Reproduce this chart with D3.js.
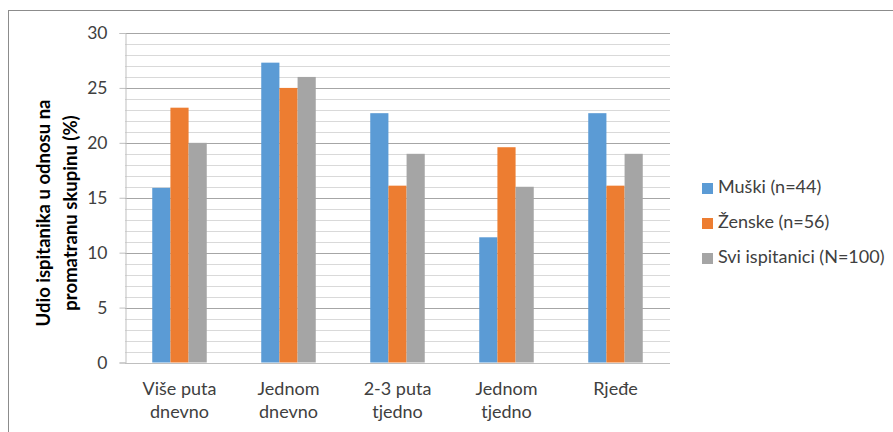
<!DOCTYPE html>
<html>
<head>
<meta charset="utf-8">
<script src="https://cdn.jsdelivr.net/npm/d3@7"></script>
<style>
  html, body { margin: 0; padding: 0; background: #fff; }
  svg { display: block; }
  text { font-family: Lato, "Open Sans", sans-serif; fill: #404040; }
</style>
</head>
<body>
<svg id="chart" width="893" height="432"></svg>
<script>
const categories = [["Više puta", "dnevno"], ["Jednom", "dnevno"], ["2-3 puta", "tjedno"], ["Jednom", "tjedno"], ["Rjeđe"]];
const seriesNames = ["Muški (n=44)", "Ženske (n=56)", "Svi ispitanici (N=100)"];
const muski = [15.9, 27.3, 22.7, 11.4, 22.7];
const zenske = [23.2, 25.0, 16.1, 19.6, 16.1];
const svi = [20, 26, 19, 16, 19];
const yTicks = [0, 5, 10, 15, 20, 25, 30];
const yMinorTicks = d3.range(0, 31, 1);
const colors = ["#5B9BD5", "#ED7D31", "#A5A5A5"];
const yTitle = ["Udio ispitanika u odnosu na", "promatranu skupinu (%)"];

const series = [muski, zenske, svi];
const svg = d3.select("#chart");

// frame
svg.append("rect").attr("x", 8.5).attr("y", 10.5).attr("width", 900).attr("height", 440)
  .attr("fill", "none").attr("stroke", "#8c8c8c").attr("stroke-width", 1);

const pLeft = 125, pRight = 670, pTop = 33, pBottom = 362.5;
const catIdx = categories.map((c, i) => i);
const x = d3.scaleBand().domain(catIdx).range([pLeft, pRight]).paddingInner(0.5).paddingOuter(0.25);
const xs = d3.scaleBand().domain([0, 1, 2]).range([0, x.bandwidth()]);
const y = d3.scaleLinear().domain([0, 30]).range([pBottom, pTop]);

// minor gridlines
svg.append("g").selectAll("line").data(yMinorTicks.filter(v => v % 5 !== 0)).join("line")
  .attr("x1", pLeft).attr("x2", pRight)
  .attr("y1", d => Math.round(y(d)) + 0.5).attr("y2", d => Math.round(y(d)) + 0.5)
  .attr("stroke", "#d9d9d9").attr("stroke-width", 1);
// major gridlines
svg.append("g").selectAll("line").data(yTicks.filter(v => v > 0)).join("line")
  .attr("x1", pLeft).attr("x2", pRight)
  .attr("y1", d => Math.round(y(d)) + 0.5).attr("y2", d => Math.round(y(d)) + 0.5)
  .attr("stroke", "#a6a6a6").attr("stroke-width", 1);

// y axis
const yAxis = d3.axisLeft(y).tickValues(yTicks).tickSize(6).tickPadding(12).tickFormat(d3.format("d"));
const ga = svg.append("g").attr("transform", `translate(${pLeft + 0.5},0)`).call(yAxis);
ga.select(".domain").attr("stroke", "#bfbfbf");
ga.selectAll(".tick line").attr("stroke", "#bfbfbf");
ga.selectAll(".tick text").attr("font-family", "Lato, sans-serif").attr("font-size", 17.5).attr("fill", "#404040");

// bars
const groups = svg.append("g").selectAll("g").data(catIdx).join("g")
  .attr("transform", d => `translate(${x(d)},0)`);
groups.selectAll("rect").data(ci => series.map((s, si) => ({ si, v: s[ci] }))).join("rect")
  .attr("x", d => xs(d.si)).attr("width", xs.bandwidth())
  .attr("y", d => y(d.v)).attr("height", d => y(0) - y(d.v))
  .attr("fill", d => colors[d.si]);

// x axis line
svg.append("line").attr("x1", pLeft).attr("x2", pRight)
  .attr("y1", Math.round(y(0)) + 0.5).attr("y2", Math.round(y(0)) + 0.5)
  .attr("stroke", "#bfbfbf");

// category labels
const cl = svg.append("g").selectAll("text").data(catIdx).join("text")
  .attr("x", d => x(d) + x.bandwidth() / 2).attr("y", 395)
  .attr("text-anchor", "middle").attr("font-size", 18);
cl.selectAll("tspan").data(d => categories[d].map((t, i) => ({ t, i, d }))).join("tspan")
  .attr("x", d => x(d.d) + x.bandwidth() / 2).attr("dy", d => d.i === 0 ? 0 : 23)
  .text(d => d.t);

// y title
const yt = svg.append("text").attr("transform", "translate(50,213) rotate(-90)")
  .attr("text-anchor", "middle").attr("font-size", 18.5).attr("font-weight", "bold").style("fill", "#000");
yt.selectAll("tspan").data(yTitle).join("tspan")
  .attr("x", 0).attr("dy", (d, i) => i === 0 ? 0 : 27).text(d => d);

// legend
const lg = svg.append("g").selectAll("g").data(seriesNames).join("g")
  .attr("transform", (d, i) => `translate(702,${183 + i * 35})`);
lg.append("rect").attr("width", 11).attr("height", 11).attr("fill", (d, i) => colors[i]);
lg.append("text").attr("x", 16).attr("y", 10).attr("font-size", 18).text(d => d);
</script>
</body>
</html>
